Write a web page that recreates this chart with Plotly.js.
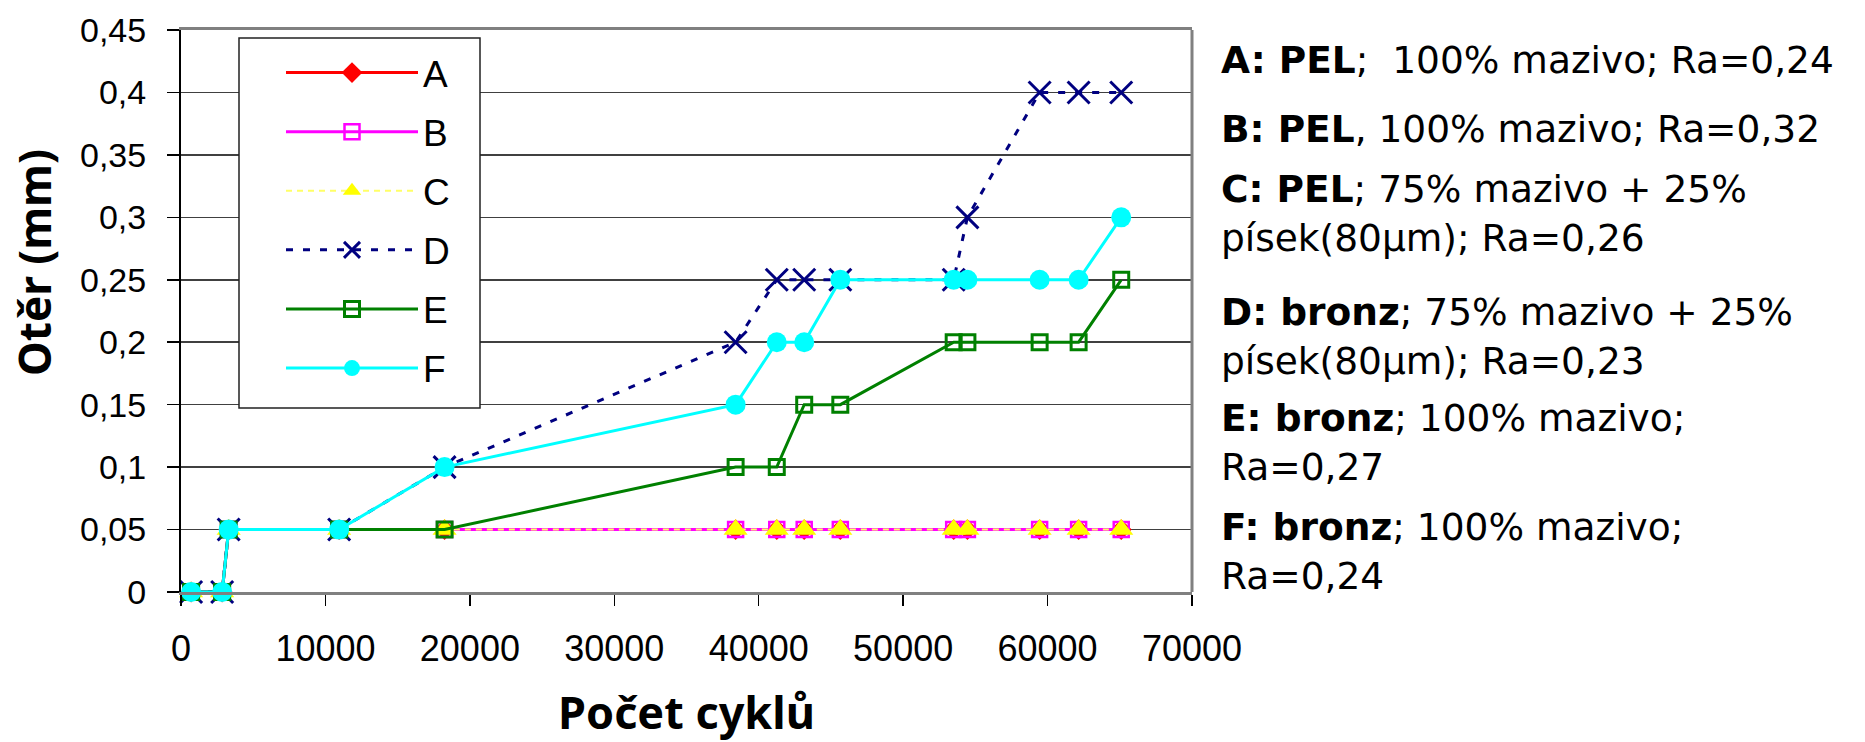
<!DOCTYPE html>
<html><head><meta charset="utf-8">
<script src="https://cdn.plot.ly/plotly-3.0.1.min.js"></script>
<style>html,body{margin:0;padding:0;background:#fff}#chart{width:1865px;height:742px}</style>
</head><body><div id="chart"></div>
<script>
// ---- data ----
const cycles  = [700, 2850, 3300, 10950, 18250, 38400, 41250, 43150, 45650, 53500, 54450, 59450, 62150, 65100];
const seriesA = [0, 0, 0.05, 0.05, 0.05, 0.05, 0.05, 0.05, 0.05, 0.05, 0.05, 0.05, 0.05, 0.05];
const seriesB = [0, 0, 0.05, 0.05, 0.05, 0.05, 0.05, 0.05, 0.05, 0.05, 0.05, 0.05, 0.05, 0.05];
const seriesC = [0, 0, 0.05, 0.05, 0.05, 0.05, 0.05, 0.05, 0.05, 0.05, 0.05, 0.05, 0.05, 0.05];
const seriesD = [0, 0, 0.05, 0.05, 0.10, 0.20, 0.25, 0.25, 0.25, 0.25, 0.30, 0.40, 0.40, 0.40];
const seriesE = [0, 0, 0.05, 0.05, 0.05, 0.10, 0.10, 0.15, 0.15, 0.20, 0.20, 0.20, 0.20, 0.25];
const seriesF = [0, 0, 0.05, 0.05, 0.10, 0.15, 0.20, 0.20, 0.25, 0.25, 0.25, 0.25, 0.25, 0.30];
const seriesNames = ['A', 'B', 'C', 'D', 'E', 'F'];
const xTickVals = [0, 10000, 20000, 30000, 40000, 50000, 60000, 70000];
const xTickText = ['0', '10000', '20000', '30000', '40000', '50000', '60000', '70000'];
const yTickVals = [0, 0.05, 0.1, 0.15, 0.2, 0.25, 0.3, 0.35, 0.4, 0.45];
const yTickText = ['0', '0,05', '0,1', '0,15', '0,2', '0,25', '0,3', '0,35', '0,4', '0,45'];
const xTitle = 'Počet cyklů';
const yTitle = 'Otěr (mm)';
const noteBold = ['A: PEL', 'B: PEL', 'C: PEL', 'D: bronz', 'E: bronz', 'F: bronz'];
const noteRest = [';\u00a0 100% mazivo; Ra=0,24', ', 100% mazivo; Ra=0,32',
  '; 75% mazivo + 25%<br>písek(80µm); Ra=0,26', '; 75% mazivo + 25%<br>písek(80µm); Ra=0,23',
  '; 100% mazivo;<br>Ra=0,27', '; 100% mazivo;<br>Ra=0,24'];

// ---- styles / layout ----
const W = 1865, H = 742;
const M = {l: 181, r: W - 1192, t: 30, b: H - 592};
const plotW = W - M.l - M.r, plotH = H - M.t - M.b;
const px2x = p => (p - M.l) / plotW;
const px2y = p => (H - M.b - p) / plotH;

const styles = [
  {line: {color: '#FF0000', width: 3}, marker: {symbol: 'diamond', size: 16, color: '#FF0000'}},
  {line: {color: '#FF00FF', width: 3}, marker: {symbol: 'square-open', size: 15, color: '#FF00FF', line: {color: '#FF00FF', width: 2.5}}},
  {line: {color: '#FFFF66', width: 2, dash: '6px,5px'}, marker: {symbol: 'triangle-up', size: 21, color: '#FFFF00', line: {width: 0}}},
  {line: {color: '#000080', width: 3, dash: '7px,10px'}, marker: {symbol: 'x-thin-open', size: 22, color: '#000080', line: {color: '#000080', width: 3}}},
  {line: {color: '#008000', width: 3}, marker: {symbol: 'square-open', size: 15, color: '#008000', line: {color: '#008000', width: 3}}},
  {line: {color: '#00FFFF', width: 3}, marker: {symbol: 'circle', size: 20, color: '#00FFFF'}}
];
const allSeries = [seriesA, seriesB, seriesC, seriesD, seriesE, seriesF];
const traces = allSeries.map((ys, i) => ({
  type: 'scatter', mode: 'lines+markers', x: cycles, y: ys, name: seriesNames[i],
  legendgroup: seriesNames[i], line: styles[i].line, marker: styles[i].marker, cliponaxis: false
}));

const noteCenters = [60, 129, 214, 336, 442, 551];
const annotations = noteBold.map((b, i) => ({
  xref: 'paper', yref: 'paper', x: px2x(1219), y: px2y(noteCenters[i]),
  xanchor: 'left', yanchor: 'middle', align: 'left', showarrow: false,
  text: '<b>' + b + '</b>' + noteRest[i],
  font: {family: 'DejaVu Sans, Verdana, sans-serif', size: 37.5, color: '#000'}
}));
annotations.push({
  xref: 'paper', yref: 'paper', x: px2x(34), y: px2y(263), textangle: -90,
  xanchor: 'center', yanchor: 'middle', showarrow: false, text: '<b>' + yTitle + '</b>',
  font: {family: 'Noto Sans, DejaVu Sans, sans-serif', size: 44, color: '#000'}
});

const layout = {
  width: W, height: H, margin: M, paper_bgcolor: '#fff', plot_bgcolor: '#fff',
  showlegend: true,
  xaxis: {
    range: [0, 70000], tickvals: xTickVals, ticktext: xTickText,
    showgrid: false, zeroline: false, showline: true, linecolor: '#808080', linewidth: 3, mirror: true,
    ticks: 'outside', ticklen: 11, tickwidth: 1.5, tickcolor: '#000', ticklabelstandoff: 12,
    tickfont: {family: 'Liberation Sans, Arial, sans-serif', size: 36, color: '#000'},
    title: {text: '<b>' + xTitle + '</b>', standoff: 34, font: {family: 'Noto Sans, DejaVu Sans, sans-serif', size: 45, color: '#000'}}
  },
  yaxis: {
    range: [0, 0.45], tickvals: yTickVals, ticktext: yTickText,
    showgrid: true, gridcolor: '#404040', gridwidth: 1.5, zeroline: false,
    showline: true, linecolor: '#000', linewidth: 2,
    ticks: 'outside', ticklen: 12, tickwidth: 1.5, tickcolor: '#000', ticklabelstandoff: 14,
    tickfont: {family: 'Liberation Sans, Arial, sans-serif', size: 34, color: '#000'}
  },
  legend: {
    x: px2x(281), y: px2y(42), xanchor: 'left', yanchor: 'top',
    bgcolor: 'rgba(0,0,0,0)', borderwidth: 0,
    font: {family: 'Liberation Sans, Arial, sans-serif', size: 37, color: '#000'},
    itemwidth: 132, traceorder: 'grouped', tracegroupgap: 8
  },
  shapes: [
    {type: 'line', xref: 'paper', yref: 'paper', x0: 1, x1: 1, y0: 0, y1: 1, line: {color: '#808080', width: 3}},
    {type: 'rect', xref: 'paper', yref: 'paper', x0: px2x(239), x1: px2x(480), y0: px2y(408), y1: px2y(38),
     line: {color: '#222', width: 1.5}, fillcolor: '#fff', layer: 'above'}
  ],
  annotations: annotations
};
Plotly.newPlot('chart', traces, layout, {displayModeBar: false, staticPlot: true});
</script>
</body></html>
